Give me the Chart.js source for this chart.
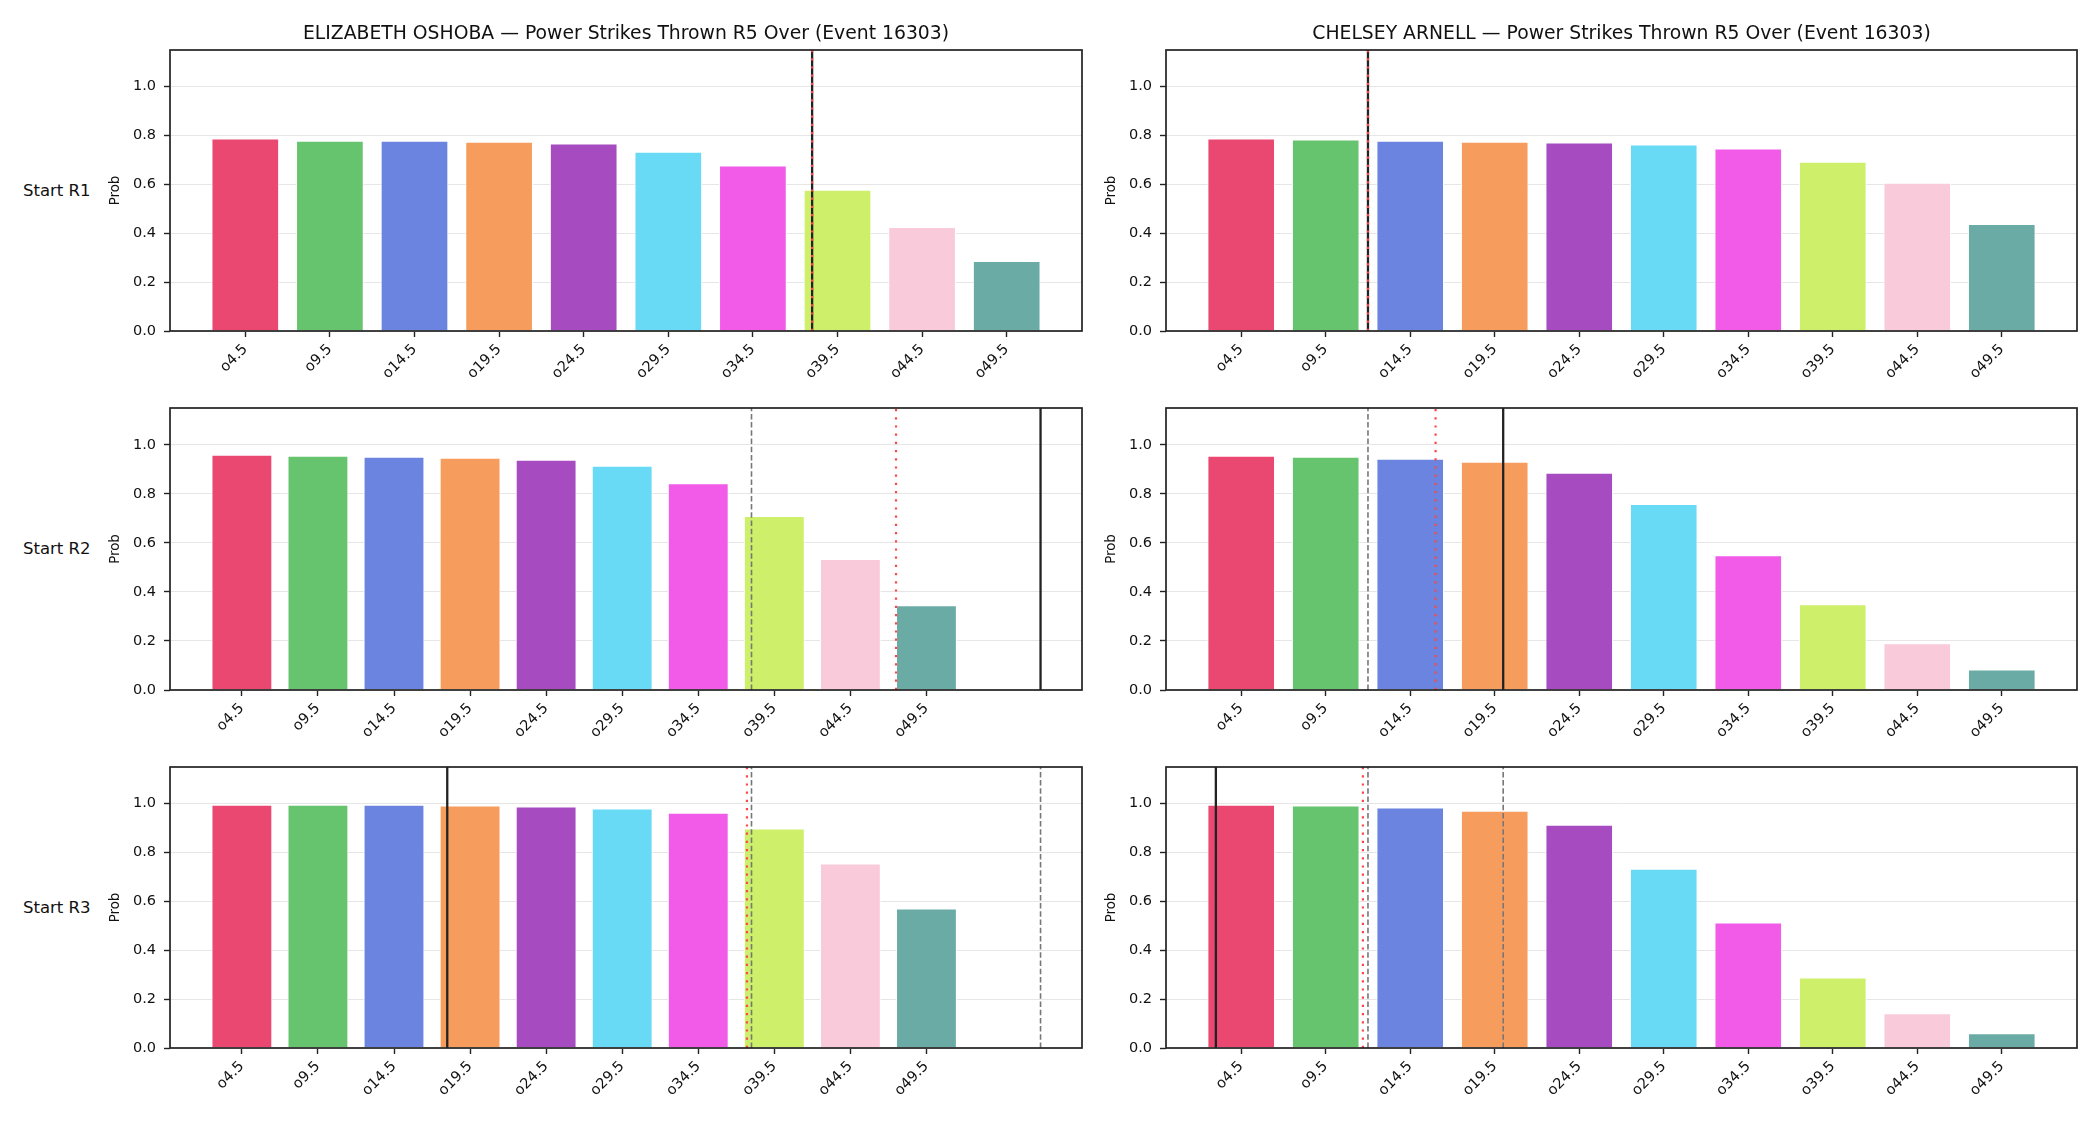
<!DOCTYPE html>
<html lang="en">
<head>
    <meta charset="UTF-8">
    <title>Power Strikes Thrown R5 Over</title>
    <script src="https://cdn.jsdelivr.net/npm/chart.js@4.4.1/dist/chart.umd.min.js"></script>
    <style>
        html, body {
            margin: 0;
            padding: 0;
            background: #ffffff;
        }
        #page {
            position: relative;
            width: 2100px;
            height: 1125px;
            overflow: hidden;
            font-family: "DejaVu Sans", sans-serif;
        }
        .panel {
            position: absolute;
        }
        .row-label {
            position: absolute;
            left: 23px;
            font-size: 16.5px;
            line-height: 20px;
            color: #111;
            white-space: nowrap;
        }
    </style>
</head>
<body>
    <div id="page"></div>

    <script>
        // Тики по оси X и числовые линии
        const lineLabels = ['o4.5', 'o9.5', 'o14.5', 'o19.5', 'o24.5', 'o29.5', 'o34.5', 'o39.5', 'o44.5', 'o49.5'];
        const lineValues = [4.5, 9.5, 14.5, 19.5, 24.5, 29.5, 34.5, 39.5, 44.5, 49.5];
        const yTicks = [0, 0.2, 0.4, 0.6, 0.8, 1.0];

        const fighters = ['ELIZABETH OSHOBA', 'CHELSEY ARNELL'];
        const rounds = ['Start R1', 'Start R2', 'Start R3'];
        const titleSuffix = ' \u2014 Power Strikes Thrown R5 Over (Event 16303)';

        // Вероятности по раундам
        const oshobaR1 = [0.788, 0.779, 0.779, 0.775, 0.767, 0.734, 0.677, 0.578, 0.426, 0.286];
        const oshobaR2 = [0.959, 0.955, 0.951, 0.947, 0.939, 0.914, 0.843, 0.710, 0.534, 0.346];
        const oshobaR3 = [0.996, 0.996, 0.996, 0.992, 0.988, 0.980, 0.963, 0.898, 0.755, 0.571];
        const arnellR1 = [0.788, 0.784, 0.779, 0.775, 0.771, 0.763, 0.747, 0.693, 0.607, 0.438];
        const arnellR2 = [0.955, 0.951, 0.943, 0.931, 0.886, 0.759, 0.550, 0.350, 0.191, 0.084];
        const arnellR3 = [0.996, 0.992, 0.984, 0.971, 0.914, 0.734, 0.514, 0.289, 0.142, 0.060];

        // Вертикальные линии: сплошная, пунктир (красный), штрих (серый)
        const oshobaActual = [38, 57, 18];
        const oshobaLine = [38, 47.5, 37.7];
        const oshobaPrior = [[], [38], [38, 57]];
        const arnellActual = [12, 20, 3];
        const arnellLine = [12, 16, 11.7];
        const arnellPrior = [[], [12], [12, 20]];

        const barColors = ['#EA4870', '#66C36E', '#6A84DF', '#F69C5C', '#A64BC0',
                           '#69DAF5', '#F15BE8', '#CDEF6A', '#F8CADA', '#6BABA6'];

        const panelData = [
            { bars: [oshobaR1, oshobaR2, oshobaR3], actual: oshobaActual, line: oshobaLine, prior: oshobaPrior },
            { bars: [arnellR1, arnellR2, arnellR3], actual: arnellActual, line: arnellLine, prior: arnellPrior }
        ];

        // Геометрия сетки графиков
        const cols = [{ left: 170, right: 1082 }, { left: 1166, right: 2077 }];
        const rowsPos = [{ top: 50, bottom: 331 }, { top: 408, bottom: 690 }, { top: 767, bottom: 1048 }];
        const Y_AXIS_W = 70;
        const X_AXIS_H = 72;
        const PAD_TOP = 20;
        const PAD_RIGHT = 6;
        const TITLE_SIZE = 18.8;
        const TITLE_PAD = 5;
        const TITLE_H = TITLE_SIZE * 1.2 + TITLE_PAD;

        Chart.defaults.font.family = '"DejaVu Sans", sans-serif';
        Chart.defaults.color = '#111';

        function toIndex(v) {
            return (v - lineValues[0]) / (lineValues[1] - lineValues[0]);
        }

        const frameBox = {
            id: 'frameBox',
            afterDatasetsDraw(chart) {
                const a = chart.chartArea;
                const ctx = chart.ctx;
                ctx.save();
                ctx.strokeStyle = '#222';
                ctx.lineWidth = 1.7;
                ctx.strokeRect(a.left, a.top, a.right - a.left, a.bottom - a.top);
                ctx.restore();
            }
        };

        function vline(pos, style) {
            const base = {
                type: 'line',
                data: [{ x: pos, y: 0 }, { x: pos, y: 1.15 }],
                pointRadius: 0,
                fill: false,
                tension: 0
            };
            if (style === 'actual') {
                return Object.assign(base, { borderColor: '#222', borderWidth: 2.3, order: 2 });
            }
            if (style === 'line') {
                return Object.assign(base, { borderColor: '#FF4545', borderWidth: 2.2, borderDash: [2.2, 6], order: 1 });
            }
            return Object.assign(base, { borderColor: '#777', borderWidth: 1.6, borderDash: [5.5, 2.7], order: 3 });
        }

        const page = document.getElementById('page');

        rowsPos.forEach((rp, r) => {
            const lab = document.createElement('div');
            lab.className = 'row-label';
            lab.textContent = rounds[r];
            lab.style.top = ((rp.top + rp.bottom) / 2 - 10) + 'px';
            page.appendChild(lab);

            cols.forEach((cp, c) => {
                const pd = panelData[c];
                const values = pd.bars[r];
                const hasTitle = r === 0;
                const titleH = hasTitle ? TITLE_H : 0;

                const canvasTop = Math.round(rp.top - PAD_TOP - titleH);
                const padTop = rp.top - titleH - canvasTop;
                const width = (cp.right - cp.left) + Y_AXIS_W + PAD_RIGHT;
                const height = Math.round(padTop + titleH + (rp.bottom - rp.top) + X_AXIS_H);

                const wrap = document.createElement('div');
                wrap.className = 'panel';
                wrap.style.left = (cp.left - Y_AXIS_W) + 'px';
                wrap.style.top = canvasTop + 'px';
                wrap.style.width = width + 'px';
                wrap.style.height = height + 'px';
                const canvas = document.createElement('canvas');
                canvas.width = width;
                canvas.height = height;
                wrap.appendChild(canvas);
                page.appendChild(wrap);

                const linePos = [];
                const datasets = [{
                    type: 'bar',
                    data: values.map((v, i) => ({ x: i, y: v })),
                    backgroundColor: barColors,
                    borderColor: '#ffffff',
                    borderWidth: 1,
                    categoryPercentage: 0.8,
                    barPercentage: 1.0,
                    order: 10
                }];
                pd.prior[r].forEach(v => { linePos.push(toIndex(v)); datasets.push(vline(toIndex(v), 'prior')); });
                linePos.push(toIndex(pd.actual[r]));
                datasets.push(vline(toIndex(pd.actual[r]), 'actual'));
                linePos.push(toIndex(pd.line[r]));
                datasets.push(vline(toIndex(pd.line[r]), 'line'));

                // пределы оси X как в автомасштабе (поля 5%)
                const lo = Math.min(-0.4, ...linePos);
                const hi = Math.max(values.length - 1 + 0.4, ...linePos);
                const m = (hi - lo) * 0.05;

                new Chart(canvas.getContext('2d'), {
                    type: 'bar',
                    data: { datasets: datasets },
                    plugins: [frameBox],
                    options: {
                        responsive: false,
                        animation: false,
                        devicePixelRatio: 1,
                        layout: { padding: { top: padTop, right: PAD_RIGHT, bottom: 0, left: 0 } },
                        plugins: {
                            legend: { display: false },
                            tooltip: { enabled: false },
                            title: {
                                display: hasTitle,
                                text: fighters[c] + titleSuffix,
                                fullSize: false,
                                font: { size: TITLE_SIZE, weight: 'normal' },
                                color: '#111',
                                padding: { top: 0, bottom: TITLE_PAD }
                            }
                        },
                        scales: {
                            x: {
                                type: 'linear',
                                min: lo - m,
                                max: hi + m,
                                offset: false,
                                border: { display: false },
                                grid: {
                                    offset: false,
                                    drawOnChartArea: false,
                                    drawTicks: true,
                                    tickLength: 6,
                                    tickColor: '#222',
                                    tickWidth: 1.4
                                },
                                afterBuildTicks: (scale) => {
                                    scale.ticks = lineLabels.map((_, i) => ({ value: i }));
                                },
                                afterFit: (scale) => { scale.height = X_AXIS_H; },
                                ticks: {
                                    autoSkip: false,
                                    minRotation: 45,
                                    maxRotation: 45,
                                    padding: 4,
                                    color: '#111',
                                    font: { size: 14.5 },
                                    callback: (v) => lineLabels[v]
                                }
                            },
                            y: {
                                min: 0,
                                max: 1.15,
                                border: { display: false },
                                grid: {
                                    color: '#e6e6e6',
                                    lineWidth: 1,
                                    tickLength: 6,
                                    tickColor: '#222',
                                    tickWidth: 1.4
                                },
                                afterBuildTicks: (scale) => {
                                    scale.ticks = yTicks.map(v => ({ value: v }));
                                },
                                afterFit: (scale) => { scale.width = Y_AXIS_W; },
                                ticks: {
                                    padding: 8,
                                    color: '#111',
                                    font: { size: 14.5 },
                                    callback: (v) => Number(v).toFixed(1)
                                },
                                title: {
                                    display: true,
                                    text: 'Prob',
                                    color: '#111',
                                    font: { size: 13.3 },
                                    padding: { top: 8, bottom: 0 }
                                }
                            }
                        }
                    }
                });
            });
        });
    </script>
</body>
</html>
